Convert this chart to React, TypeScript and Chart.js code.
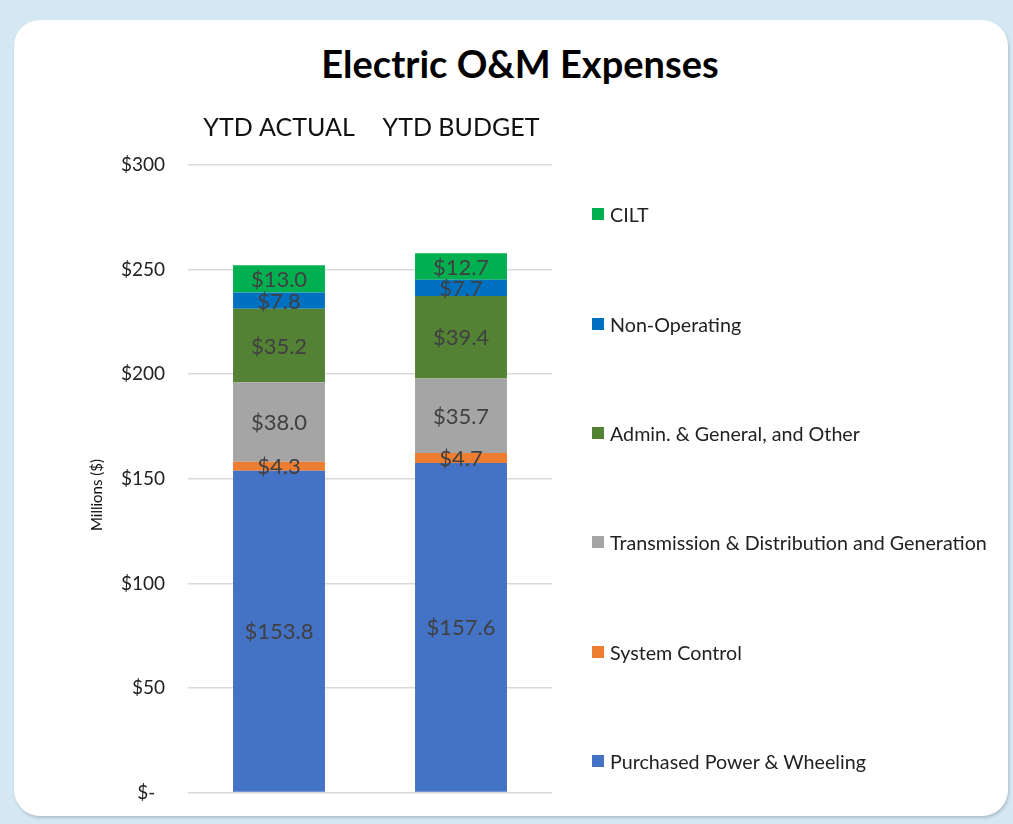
import React, { useEffect, useRef } from 'react';
import { Chart, registerables } from 'chart.js';

Chart.register(...registerables);

const categories = ['YTD ACTUAL', 'YTD BUDGET'];
const seriesNames = [
  'Purchased Power & Wheeling',
  'System Control',
  'Transmission & Distribution and Generation',
  'Admin. & General, and Other',
  'Non-Operating',
  'CILT',
];
const purchasedPower = [153.8, 157.6];
const systemControl = [4.3, 4.7];
const transmission = [38.0, 35.7];
const adminGeneral = [35.2, 39.4];
const nonOperating = [7.8, 7.7];
const cilt = [13.0, 12.7];
const seriesValues = [purchasedPower, systemControl, transmission, adminGeneral, nonOperating, cilt];
const seriesColors = ['#4472C4', '#ED7D31', '#A5A5A5', '#548235', '#0070C0', '#00B050'];
const yMin = 0;
const yMax = 300;
const yStep = 50;
const chartTitle = 'Electric O&M Expenses';
const yAxisTitle = 'Millions ($)';

const FONT = 'Lato, "Open Sans", sans-serif';

const labelPlugin = {
  id: 'segLabels',
  afterDatasetsDraw(chart: any) {
    const ctx = chart.ctx;
    ctx.save();
    ctx.font = `22px ${FONT}`;
    ctx.fillStyle = '#404040';
    ctx.textAlign = 'center';
    ctx.textBaseline = 'middle';
    chart.data.datasets.forEach((ds: any, i: number) => {
      const meta = chart.getDatasetMeta(i);
      meta.data.forEach((bar: any, j: number) => {
        const p = bar.getProps(['x', 'y', 'base'], true);
        const v = ds.data[j];
        ctx.fillText('$' + v.toFixed(1), p.x, (p.y + p.base) / 2 + 1);
      });
    });
    // y axis title
    ctx.font = `15px ${FONT}`;
    ctx.fillStyle = '#111111';
    ctx.translate(69, 475);
    ctx.rotate(-Math.PI / 2);
    ctx.fillText(yAxisTitle, 0, 0);
    ctx.restore();
  },
};

export default function App() {
  const ref = useRef<HTMLCanvasElement>(null);

  useEffect(() => {
    if (!ref.current) return;
    const chart = new Chart(ref.current, {
      type: 'bar',
      data: {
        labels: categories,
        datasets: seriesNames.map((name, i) => ({
          label: name,
          data: seriesValues[i],
          backgroundColor: seriesColors[i],
          borderWidth: 0,
          categoryPercentage: 1,
          barPercentage: 0.505,
        })),
      },
      options: {
        responsive: false,
        animation: false,
        layout: { padding: { left: 0, right: 460, top: 0, bottom: 15 } },
        plugins: {
          legend: { display: false },
          tooltip: { enabled: false },
          title: { display: false },
        },
        scales: {
          x: {
            position: 'top',
            stacked: true,
            grid: { display: false, drawTicks: false },
            border: { display: false },
            ticks: {
              color: '#111111',
              font: { family: FONT, size: 25 },
              padding: 22,
            },
            afterFit: (s: any) => {
              s.height = 145;
            },
          },
          y: {
            stacked: true,
            min: yMin,
            max: yMax,
            grid: { color: '#d9d9d9', lineWidth: 1.5, drawTicks: false },
            border: { display: false },
            ticks: {
              stepSize: yStep,
              color: '#222222',
              font: { family: FONT, size: 19 },
              padding: 23,
              callback: (v: any) => (Number(v) === 0 ? '$-  ' : '$' + v),
            },
            afterFit: (s: any) => {
              s.width = 160;
            },
          },
        },
      },
      plugins: [labelPlugin],
    });
    return () => chart.destroy();
  }, []);

  const legendYs = [761, 652, 542, 433, 324, 214];

  return (
    <div
      style={{
        position: 'fixed',
        left: 0,
        top: 0,
        width: 1013,
        height: 824,
        background: '#d3e8f3',
        overflow: 'hidden',
        fontFamily: FONT,
      }}
    >
      <div
        style={{
          position: 'absolute',
          left: 14,
          top: 20,
          width: 994,
          height: 796,
          background: '#ffffff',
          borderRadius: 26,
          boxShadow: '1px 2px 3px rgba(0,0,0,0.18)',
        }}
      />
      <div
        style={{
          position: 'absolute',
          left: 220,
          width: 600,
          top: 40,
          height: 46,
          lineHeight: '46px',
          textAlign: 'center',
          fontSize: 38,
          fontWeight: 'bold',
          color: '#000000',
          whiteSpace: 'nowrap',
        }}
      >
        {chartTitle}
      </div>
      <canvas
        ref={ref}
        width={984}
        height={807}
        style={{ position: 'absolute', left: 28, top: 20, width: 984, height: 807 }}
      />
      {seriesNames.map((name, i) => (
        <div
          key={name}
          style={{
            position: 'absolute',
            left: 592,
            top: legendYs[i] - 12,
            height: 24,
            display: 'flex',
            alignItems: 'center',
            whiteSpace: 'nowrap',
            fontSize: 19.7,
            color: '#222222',
          }}
        >
          <span
            style={{
              display: 'inline-block',
              width: 12,
              height: 12,
              background: seriesColors[i],
              marginRight: 6,
            }}
          />
          <span>{name}</span>
        </div>
      ))}
    </div>
  );
}
